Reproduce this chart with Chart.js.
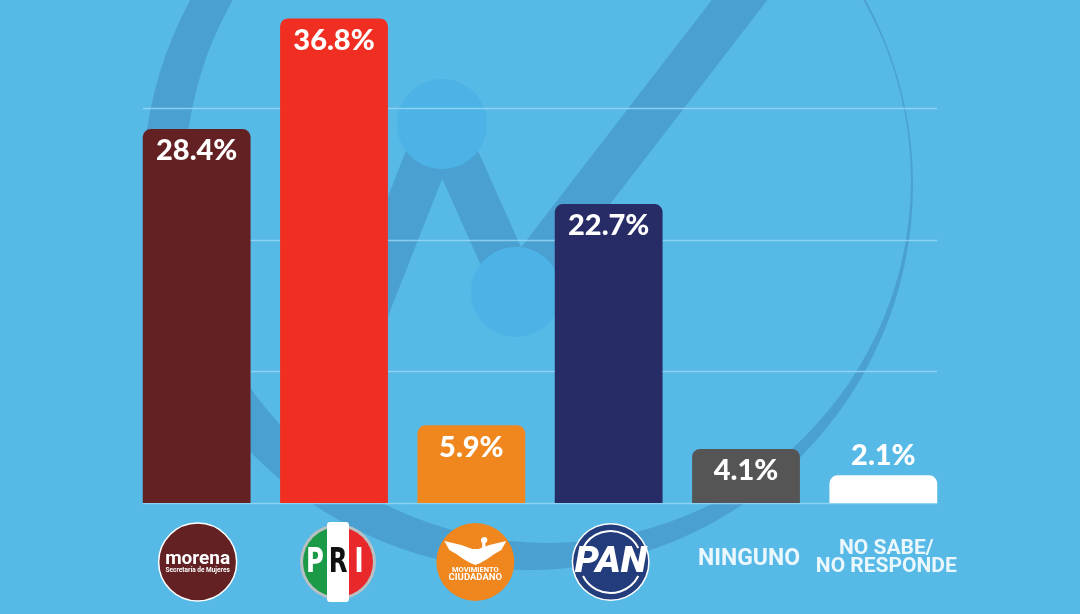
<!DOCTYPE html>
<html>
<head>
<meta charset="utf-8">
<script src="https://cdn.jsdelivr.net/npm/chart.js@4.4.1/dist/chart.umd.min.js"></script>
<style>
  html, body { margin: 0; padding: 0; background: #56b9e6; }
  #wrap { width: 1080px; height: 614px; position: relative; }
</style>
</head>
<body>
<div id="wrap"><canvas id="c" width="1080" height="614"></canvas></div>
<script>
const categories = ['MORENA', 'PRI', 'MOVIMIENTO CIUDADANO', 'PAN', 'NINGUNO', 'NO SABE/ NO RESPONDE'];
const values = [28.4, 36.8, 5.9, 22.7, 4.1, 2.1];
const barColors = ['#632124', '#f02e22', '#f0861e', '#272b66', '#555555', '#ffffff'];
const gridValues = [0, 10, 20, 30];

const BG = '#56b9e6';

const backgroundPlugin = {
  id: 'bg',
  beforeDraw(chart) {
    const ctx = chart.ctx;
    ctx.save();
    ctx.fillStyle = BG;
    ctx.fillRect(0, 0, chart.width, chart.height);
    // watermark crescent
    ctx.beginPath();
    ctx.arc(528, 185, 385, 0, Math.PI * 2);
    ctx.arc(548, 180, 363, 0, Math.PI * 2, true);
    ctx.fillStyle = '#4ba0d2';
    ctx.fill('evenodd');
    // chart line
    ctx.strokeStyle = '#4ba0d2';
    ctx.lineWidth = 44;
    ctx.lineJoin = 'round';
    ctx.beginPath();
    ctx.moveTo(355, 340);
    ctx.lineTo(441, 122);
    ctx.lineTo(516, 290);
    ctx.lineTo(755, -20);
    ctx.stroke();
    // nodes
    ctx.fillStyle = '#4db3e6';
    ctx.beginPath(); ctx.arc(442, 124, 45, 0, Math.PI * 2); ctx.fill();
    ctx.beginPath(); ctx.arc(516, 292, 45, 0, Math.PI * 2); ctx.fill();
    ctx.restore();
  },
  beforeDatasetsDraw(chart) {
    const ctx = chart.ctx;
    const y = chart.scales.y;
    const meta = chart.getDatasetMeta(0);
    const first = meta.data[0], last = meta.data[meta.data.length - 1];
    const x0 = first.x - first.width / 2;
    const x1 = last.x + last.width / 2;
    ctx.save();
    ctx.strokeStyle = 'rgba(160,220,248,0.75)';
    ctx.lineWidth = 1.5;
    gridValues.forEach(v => {
      const py = Math.round(y.getPixelForValue(v)) + 0.5;
      ctx.beginPath();
      ctx.moveTo(x0, py);
      ctx.lineTo(x1, py);
      ctx.stroke();
    });
    ctx.restore();
  }
};

const valueLabels = {
  id: 'valueLabels',
  afterDatasetsDraw(chart) {
    const ctx = chart.ctx;
    const meta = chart.getDatasetMeta(0);
    ctx.save();
    ctx.font = '900 29px Lato, Roboto, sans-serif';
    ctx.textAlign = 'center';
    ctx.textBaseline = 'middle';
    ctx.fillStyle = '#ffffff';
    meta.data.forEach((el, i) => {
      const h = el.base - el.y;
      const txt = values[i].toFixed(1) + '%';
      if (h > 45) ctx.fillText(txt, el.x, el.y + 22);
      else ctx.fillText(txt, el.x, el.y - 20);
    });
    ctx.restore();
  }
};

function drawMorena(ctx, cx, cy) {
  ctx.beginPath(); ctx.arc(cx, cy, 39, 0, Math.PI * 2);
  ctx.fillStyle = '#632124'; ctx.fill();
  ctx.lineWidth = 1.5; ctx.strokeStyle = '#ffffff'; ctx.stroke();
  ctx.fillStyle = '#ffffff';
  ctx.textAlign = 'center'; ctx.textBaseline = 'alphabetic';
  ctx.font = 'bold 19px Roboto, sans-serif';
  ctx.fillText('morena', cx, cy + 2);
  ctx.font = 'bold 6.5px Roboto, sans-serif';
  ctx.fillText('Secretaría de Mujeres', cx, cy + 10);
}

function drawPRI(ctx, cx, cy) {
  ctx.beginPath(); ctx.arc(cx, cy, 38, 0, Math.PI * 2);
  ctx.fillStyle = '#b8c0c4'; ctx.fill();
  ctx.save();
  ctx.beginPath(); ctx.arc(cx, cy, 35, 0, Math.PI * 2); ctx.clip();
  ctx.fillStyle = '#1b9a47'; ctx.fillRect(cx - 40, cy - 40, 40, 80);
  ctx.fillStyle = '#e8282b'; ctx.fillRect(cx, cy - 40, 40, 80);
  ctx.restore();
  ctx.fillStyle = '#ffffff';
  ctx.beginPath(); ctx.roundRect(cx - 11, cy - 40, 22, 80, 3); ctx.fill();
  ctx.textAlign = 'center'; ctx.textBaseline = 'middle';
  ctx.font = 'bold 33px "DejaVu Sans Condensed", "DejaVu Sans", sans-serif';
  const letters = [['P', -23, '#ffffff'], ['R', 0, '#111111'], ['I', 21, '#ffffff']];
  letters.forEach(([l, dx, col]) => {
    ctx.save();
    ctx.translate(cx + dx, cy);
    ctx.scale(0.82, 1);
    ctx.fillStyle = col;
    ctx.fillText(l, 0, 1);
    ctx.restore();
  });
}

function drawMC(ctx, cx, cy) {
  ctx.beginPath(); ctx.arc(cx, cy, 39, 0, Math.PI * 2);
  ctx.fillStyle = '#f0861e'; ctx.fill();
  ctx.fillStyle = '#ffffff';
  ctx.beginPath();
  const pts = [[-31, -21], [-14, -17], [-3, -13], [3, -13], [14, -17], [31, -21], [26, -12], [19, -8], [12, -3], [5, 1], [0, 3], [-5, 1], [-12, -3], [-19, -8], [-26, -12]];
  pts.forEach(([dx, dy], k) => k ? ctx.lineTo(cx + dx, cy + dy) : ctx.moveTo(cx + dx, cy + dy));
  ctx.closePath(); ctx.fill();
  ctx.strokeStyle = '#ffffff'; ctx.lineWidth = 3; ctx.lineCap = 'round';
  ctx.beginPath();
  ctx.moveTo(cx + 2, cy - 6);
  ctx.quadraticCurveTo(cx + 12, cy - 14, cx + 7, cy - 22);
  ctx.stroke();
  ctx.beginPath(); ctx.arc(cx + 9, cy - 22, 3, 0, Math.PI * 2); ctx.fill();
  ctx.textAlign = 'center'; ctx.textBaseline = 'middle';
  ctx.font = 'bold 7.5px Roboto, sans-serif';
  ctx.fillText('MOVIMIENTO', cx, cy + 8);
  ctx.font = 'bold 9.5px Roboto, sans-serif';
  ctx.fillText('CIUDADANO', cx, cy + 16);
}

function drawPAN(ctx, cx, cy) {
  ctx.beginPath(); ctx.arc(cx, cy, 39, 0, Math.PI * 2);
  ctx.fillStyle = '#ffffff'; ctx.fill();
  ctx.beginPath(); ctx.arc(cx, cy, 37.5, 0, Math.PI * 2);
  ctx.fillStyle = '#223c7c'; ctx.fill();
  ctx.strokeStyle = '#ffffff'; ctx.lineWidth = 2;
  ctx.beginPath(); ctx.arc(cx, cy, 31, Math.PI * 1.15, Math.PI * 1.85); ctx.stroke();
  ctx.beginPath(); ctx.arc(cx, cy, 31, Math.PI * 0.15, Math.PI * 0.85); ctx.stroke();
  ctx.save();
  ctx.translate(cx, cy + 1);
  ctx.font = 'italic 900 36px Roboto, sans-serif';
  const w = ctx.measureText('PAN').width;
  ctx.scale(72 / w, 1);
  ctx.fillStyle = '#ffffff';
  ctx.textAlign = 'center'; ctx.textBaseline = 'middle';
  ctx.fillText('PAN', 0, 0);
  ctx.restore();
}

function drawTextLabel(ctx, cx, cy, label) {
  ctx.fillStyle = '#eaf7fd';
  ctx.textAlign = 'center'; ctx.textBaseline = 'middle';
  const lines = label.split('/ ');
  if (lines.length === 1) {
    ctx.font = 'bold 23px Roboto, sans-serif';
    ctx.fillText(label, cx, cy - 3);
  } else {
    ctx.font = 'bold 21px Roboto, sans-serif';
    ctx.fillText(lines[0] + '/', cx, cy - 13);
    ctx.fillText(lines[1], cx, cy + 4.5);
  }
}

const categoryLabels = {
  id: 'categoryLabels',
  afterDraw(chart) {
    const ctx = chart.ctx;
    const xs = chart.scales.x;
    const cy = 562;
    ctx.save();
    categories.forEach((c, i) => {
      const cx = xs.getPixelForValue(i);
      ctx.save();
      if (c === 'MORENA') drawMorena(ctx, cx + 1, cy);
      else if (c === 'PRI') drawPRI(ctx, cx + 4, cy);
      else if (c === 'MOVIMIENTO CIUDADANO') drawMC(ctx, cx + 4, cy);
      else if (c === 'PAN') drawPAN(ctx, cx + 2, cy);
      else drawTextLabel(ctx, cx + 3, cy, c);
      ctx.restore();
    });
    ctx.restore();
  }
};

new Chart(document.getElementById('c'), {
  type: 'bar',
  data: {
    labels: categories,
    datasets: [{
      data: values,
      backgroundColor: barColors,
      borderRadius: { topLeft: 8, topRight: 8, bottomLeft: 0, bottomRight: 0 },
      borderSkipped: 'bottom',
      barPercentage: 0.785,
      categoryPercentage: 1.0
    }]
  },
  options: {
    responsive: false,
    devicePixelRatio: 1,
    animation: false,
    layout: { padding: { left: 128, right: 128, top: 0, bottom: 111 } },
    plugins: { legend: { display: false }, tooltip: { enabled: false } },
    scales: {
      x: { display: false, offset: true, grid: { display: false } },
      y: { display: false, min: 0, max: 38.2, ticks: { stepSize: 10 }, grid: { display: false } }
    }
  },
  plugins: [backgroundPlugin, valueLabels, categoryLabels]
});
</script>
</body>
</html>
